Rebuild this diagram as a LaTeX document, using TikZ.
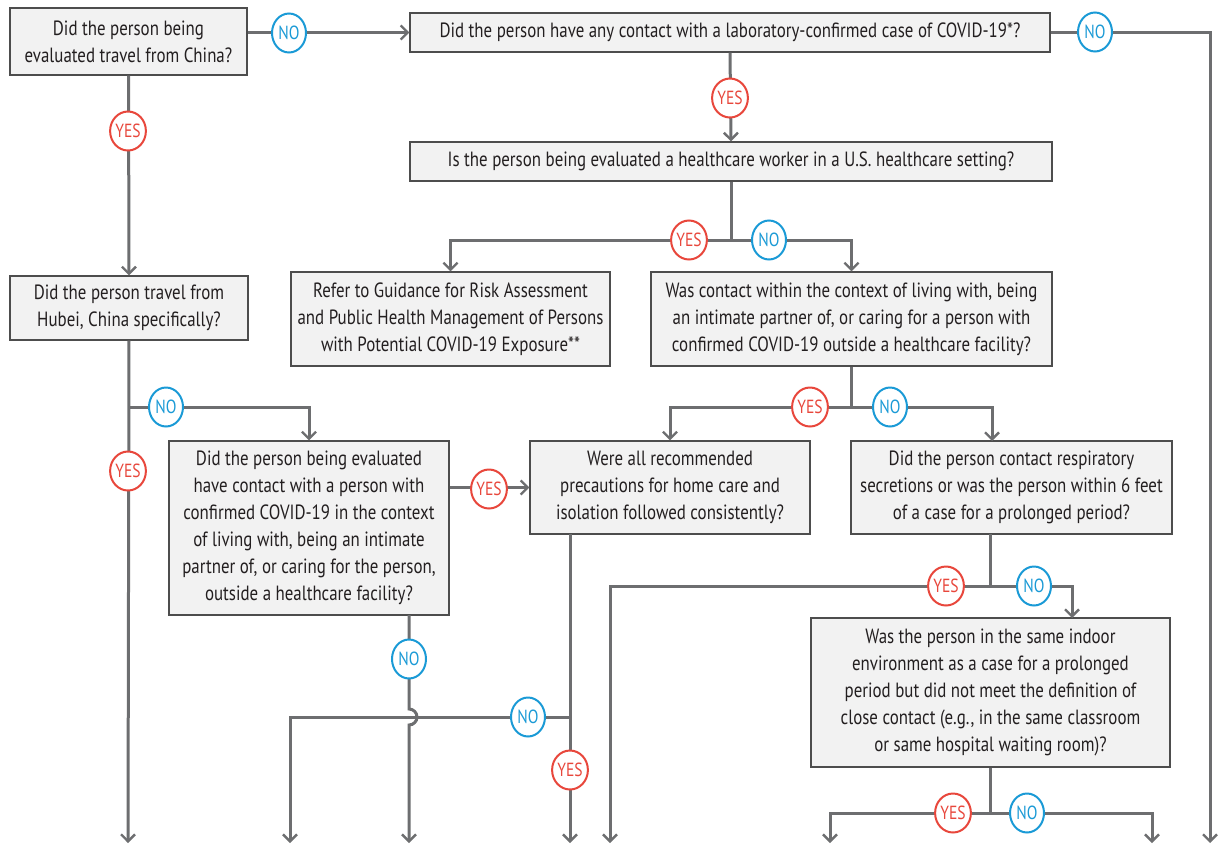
\documentclass[tikz,border=0pt]{standalone}
\usepackage{fontspec}
\setmainfont{PT Sans}[FakeStretch=0.82]
\usetikzlibrary{arrows.meta,shapes.geometric}
\definecolor{linegray}{HTML}{6D6E70}
\definecolor{boxgray}{HTML}{F2F2F2}
\definecolor{boxline}{HTML}{4D4D4D}
\definecolor{yesred}{HTML}{E8473C}
\definecolor{noblue}{HTML}{1A9AD6}
\definecolor{txt}{HTML}{231F20}
\begin{document}
\begin{tikzpicture}[x=1pt,y=-1pt,
  qbox/.style={draw=boxline,line width=1.2pt,fill=boxgray,align=center,inner sep=2pt,
    font=\fontsize{20.6}{27}\selectfont,text=txt},
  conn/.style={draw=linegray,line width=3pt},
  arr/.style={conn,-{Straight Barb[length=7pt,width=14pt,line width=2.4pt]}},
  yesc/.style={ellipse,draw=yesred,line width=2pt,fill=white,text=yesred,inner sep=0pt,
    minimum width=34pt,minimum height=39pt,font=\fontsize{19}{19}\selectfont},
  noc/.style={ellipse,draw=noblue,line width=2pt,fill=white,text=noblue,inner sep=0pt,
    minimum width=34pt,minimum height=39pt,font=\fontsize{19}{19}\selectfont}]
\useasboundingbox (0,0) rectangle (1219,844);
% boxes
\node[qbox,minimum width=237pt,minimum height=67pt] (b1) at (128.5,41.5) {Did the person being\\evaluated travel from China?};
\node[qbox,minimum width=640pt,minimum height=39pt] (b2) at (730,32.5) {Did the person have any contact with a laboratory-confirmed case of COVID-19*?};
\node[qbox,minimum width=642pt,minimum height=39pt] (b3) at (731,161.5) {Is the person being evaluated a healthcare worker in a U.S. healthcare setting?};
\node[qbox,minimum width=319pt,minimum height=94pt] (b4) at (450.5,319) {Refer to Guidance for Risk Assessment\\and Public Health Management of Persons\\with Potential COVID-19 Exposure**};
\node[qbox,minimum width=401pt,minimum height=94pt] (b5) at (851.5,319) {Was contact within the context of living with, being\\an intimate partner of, or caring for a person with\\confirmed COVID-19 outside a healthcare facility?};
\node[qbox,minimum width=280pt,minimum height=93pt] (b6) at (670,487.5) {Were all recommended\\precautions for home care and\\isolation followed consistently?};
\node[qbox,minimum width=321pt,minimum height=93pt] (b7) at (1011.5,487.5) {Did the person contact respiratory\\secretions or was the person within 6 feet\\of a case for a prolonged period?};
\node[qbox,minimum width=238pt,minimum height=64pt] (b8) at (129,308) {Did the person travel from\\Hubei, China specifically?};
\node[qbox,minimum width=280pt,minimum height=174pt] (b9) at (309,528) {Did the person being evaluated\\have contact with a person with\\confirmed COVID-19 in the context\\of living with, being an intimate\\partner of, or caring for the person,\\outside a healthcare facility?};
\node[qbox,minimum width=359pt,minimum height=149pt] (b10) at (990.5,692.5) {Was the person in the same indoor\\environment as a case for a prolonged\\period but did not meet the definition of\\close contact (e.g., in the same classroom\\or same hospital waiting room)?};
% coordinates
\coordinate (e1) at (1210,843);
\coordinate (j1) at (731,240);
\coordinate (j2) at (851.5,407);
\coordinate (t7) at (992,441);
\coordinate (e2) at (128,843);
\coordinate (j3) at (128,407);
\coordinate (s9) at (409,615);
\coordinate (h1) at (409,709);
\coordinate (e3) at (409,843);
\coordinate (s6) at (570,534);
\coordinate (j4) at (570,717);
\coordinate (e4) at (570,843);
\coordinate (e5) at (290,843);
\coordinate (s7) at (990,534);
\coordinate (j5) at (990,586);
\coordinate (e6) at (610,843);
\coordinate (t10) at (1072,618);
\coordinate (j6) at (990.5,813);
\coordinate (e7) at (830,843);
\coordinate (e8) at (1152,843);
% connectors
\draw[arr] (b1.east|-b2.west) -- (b2.west);
\draw[arr] (b2.east) -| (e1);
\draw[arr] (b2.south) -- (b3.north);
\draw[conn] (b3.south) -- (j1);
\draw[arr] (j1) -| (b4.north);
\draw[arr] (j1) -| (b5.north);
\draw[conn] (b5.south) -- (j2);
\draw[arr] (j2) -| (b6.north);
\draw[arr] (j2) -| (t7);
\draw[arr] (b1.south) -- (b8.north);
\draw[arr] (b8.south) -- (e2);
\draw[arr] (j3) -| (b9.north);
\draw[arr] (b9.east|-b6.west) -- (b6.west);
\draw[conn] (s6) -- (j4);
\draw[arr] (j4) -- (e4);
\draw[arr] (j4) -| (e5);
\draw[arr] (s9) -- (h1) arc[start angle=-90,end angle=90,radius=8] -- (e3);
\draw[conn] (s7) -- (j5);
\draw[arr] (j5) -| (e6);
\draw[arr] (j5) -| (t10);
\draw[conn] (b10.south) -- (j6);
\draw[arr] (j6) -| (e7);
\draw[arr] (j6) -| (e8);
% labels
\node[noc] (n1) at (289,33) {NO};
\node[noc] (n2) at (1095,32) {NO};
\node[yesc] (y1) at (730,98) {YES};
\node[yesc] (y2) at (689,240) {YES};
\node[noc] (n3) at (769,240) {NO};
\node[yesc] (y3) at (810,407) {YES};
\node[noc] (n4) at (890,407) {NO};
\node[yesc] (y4) at (128,131) {YES};
\node[yesc] (y5) at (128,471) {YES};
\node[noc] (n5) at (166,407) {NO};
\node[yesc] (y6) at (489,489) {YES};
\node[noc] (n6) at (409,659) {NO};
\node[noc] (n7) at (528,717) {NO};
\node[yesc] (y7) at (570,770) {YES};
\node[yesc] (y8) at (946,586) {YES};
\node[noc] (n8) at (1034,586) {NO};
\node[yesc] (y9) at (953,813) {YES};
\node[noc] (n9) at (1027,813) {NO};
\end{tikzpicture}
\end{document}
